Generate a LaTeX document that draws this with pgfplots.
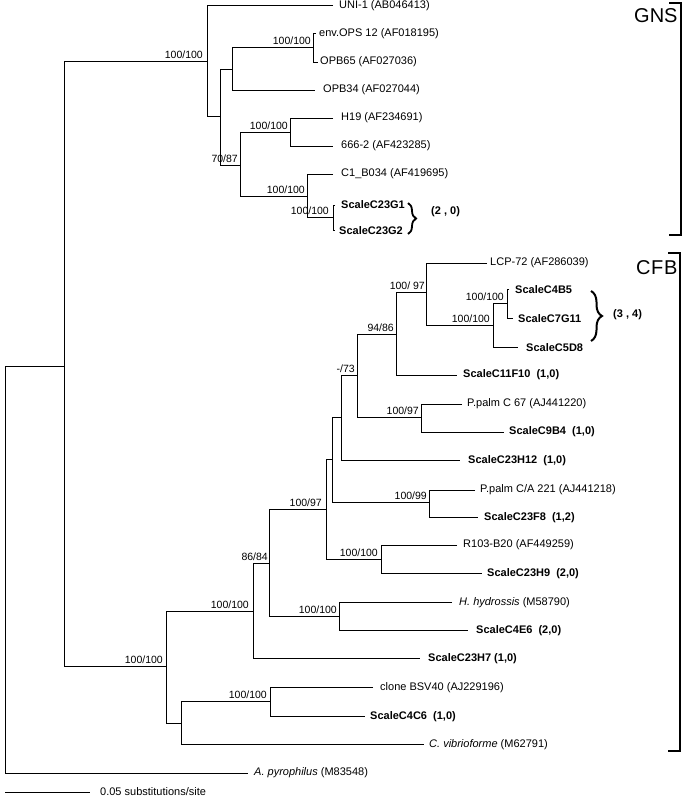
\documentclass[border=0pt]{standalone}
\usepackage{fontspec}
\setmainfont{Liberation Sans}
\usepackage{pgfplots}
\pgfplotsset{compat=1.18}
\usetikzlibrary{decorations.pathreplacing}

\tikzset{
    tip/.style={anchor=west, inner sep=0pt, font=\fontsize{11}{13}\selectfont},
    bs/.style={anchor=south east, inner sep=0pt, font=\fontsize{10.5}{12}\selectfont},
}

\begin{document}
\begin{tikzpicture}
\begin{axis}[
    x=1pt, y=1pt, y dir=reverse,
    xmin=0, xmax=686, ymin=0, ymax=797,
    hide axis, clip=false,
    cycle list={{black, solid, no markers, line width=0.9pt}},
]
% each node: (top child end) (node x, top) (node x, bottom) (bottom child end)
% root and outgroup
\addplot coordinates {(64,366) (5,366) (5,773) (248,773)};
\addplot coordinates {(207,61) (64,61) (64,666) (166,666)};
% GNS
\addplot coordinates {(333,5) (207,5) (207,116) (220,116)};
\addplot coordinates {(232,69) (220,69) (220,165) (240,165)};
\addplot coordinates {(313,47) (232,47) (232,90) (315,90)};
\addplot coordinates {(316,33) (313,33) (313,62) (318,62)};
\addplot coordinates {(290,132) (240,132) (240,196) (307,196)};
\addplot coordinates {(333,118) (290,118) (290,146) (333,146)};
\addplot coordinates {(333,174) (307,174) (307,217) (333,217)};
\addplot coordinates {(335,205) (333,205) (333,230) (335,230)};
% CFB
\addplot coordinates {(253,611) (166,611) (166,723) (181,723)};
\addplot coordinates {(269,563) (253,563) (253,658) (420,658)};
\addplot coordinates {(326,509) (269,509) (269,616) (339,616)};
\addplot coordinates {(452,602) (339,602) (339,630) (468,630)};
\addplot coordinates {(332,459) (326,459) (326,559) (381,559)};
\addplot coordinates {(457,545) (381,545) (381,573) (482,573)};
\addplot coordinates {(341,417) (332,417) (332,502) (429,502)};
\addplot coordinates {(475,490) (429,490) (429,517) (478,517)};
\addplot coordinates {(357,375) (341,375) (341,460) (460,460)};
\addplot coordinates {(396,334) (357,334) (357,417) (421,417)};
\addplot coordinates {(462,404) (421,404) (421,432) (504,432)};
\addplot coordinates {(426,292) (396,292) (396,375) (457,375)};
\addplot coordinates {(487,263) (426,263) (426,325) (493,325)};
\addplot coordinates {(507,303) (493,303) (493,347) (518,347)};
\addplot coordinates {(509,289) (507,289) (507,318) (513,318)};
\addplot coordinates {(270,701) (181,701) (181,744) (424,744)};
\addplot coordinates {(373,687) (270,687) (270,716) (365,716)};
% scale bar
\addplot coordinates {(5,792) (90,792)};
% group brackets
\addplot[black, line width=2pt] coordinates {(669,3) (681,3) (681,235) (669,235)};
\addplot[black, line width=2pt] coordinates {(668,253) (680,253) (680,751) (668,751)};

% tip labels
\node[tip] at (339,6) {UNI-1 (AB046413)};
\node[tip] at (319,34) {env.OPS 12 (AF018195)};
\node[tip] at (320,62) {OPB65 (AF027036)};
\node[tip] at (323,90) {OPB34 (AF027044)};
\node[tip] at (341,118) {H19 (AF234691)};
\node[tip] at (341,146) {666-2 (AF423285)};
\node[tip] at (341,174) {C1\_B034 (AF419695)};
\node[tip] at (341,205) {\bfseries ScaleC23G1};
\node[tip] at (339,231) {\bfseries ScaleC23G2};
\node[tip] at (431,212) {\bfseries (2 , 0)};
\node[tip] at (490,263) {LCP-72 (AF286039)};
\node[tip] at (515,290) {\bfseries ScaleC4B5};
\node[tip] at (518,319) {\bfseries ScaleC7G11};
\node[tip] at (526,348) {\bfseries ScaleC5D8};
\node[tip] at (613,315) {\bfseries (3 , 4)};
\node[tip] at (463,375) {\bfseries ScaleC11F10\ \ (1,0)};
\node[tip] at (467,404) {P.palm C 67 (AJ441220)};
\node[tip] at (509,432) {\bfseries ScaleC9B4\ \ (1,0)};
\node[tip] at (468,461) {\bfseries ScaleC23H12\ \ (1,0)};
\node[tip] at (480,490) {P.palm C/A 221 (AJ441218)};
\node[tip] at (484,518) {\bfseries ScaleC23F8\ \ (1,2)};
\node[tip] at (463,545) {R103-B20 (AF449259)};
\node[tip] at (487,574) {\bfseries ScaleC23H9\ \ (2,0)};
\node[tip] at (459,603) {\itshape H. hydrossis \upshape(M58790)};
\node[tip] at (476,631) {\bfseries ScaleC4E6\ \ (2,0)};
\node[tip] at (428,659) {\bfseries ScaleC23H7 (1,0)};
\node[tip] at (380,688) {clone BSV40 (AJ229196)};
\node[tip] at (370,717) {\bfseries ScaleC4C6\ \ (1,0)};
\node[tip] at (429,745) {\itshape C. vibrioforme \upshape(M62791)};
\node[tip] at (254,773) {\itshape A. pyrophilus \upshape(M83548)};
\node[tip] at (100,792) {0.05 substitutions/site};

% group names
\node[anchor=west, inner sep=0pt, font=\fontsize{20}{24}\selectfont] at (634,16) {GNS};
\node[anchor=west, inner sep=0pt, font=\fontsize{20}{24}\selectfont] at (636,268) {C\kern0.6pt F\kern0.6pt B};

% braces
\draw[decorate, decoration={brace, amplitude=8pt}, line width=1.8pt] (408,203) -- (408,234);
\draw[decorate, decoration={brace, amplitude=11pt}, line width=2pt] (591,291) -- (591,341);

% bootstrap values
\node[bs] at (203,59) {100/100};
\node[bs] at (311,45) {100/100};
\node[bs] at (238,163) {70/87};
\node[bs] at (288,130) {100/100};
\node[bs] at (305,194) {100/100};
\node[bs] at (329,215) {100/100};
\node[bs] at (425,290) {100/ 97};
\node[bs] at (504,301) {100/100};
\node[bs] at (490,323) {100/100};
\node[bs] at (394,332) {94/86};
\node[bs] at (355,373) {-/73};
\node[bs] at (419,415) {100/97};
\node[bs] at (322,507) {100/97};
\node[bs] at (427,500) {100/99};
\node[bs] at (378,557) {100/100};
\node[bs] at (268,561) {86/84};
\node[bs] at (337,614) {100/100};
\node[bs] at (249,609) {100/100};
\node[bs] at (163,664) {100/100};
\node[bs] at (267,699) {100/100};
\end{axis}
\pgfresetboundingbox
\path (current axis.south west) rectangle (current axis.north east);
\end{tikzpicture}
\end{document}
